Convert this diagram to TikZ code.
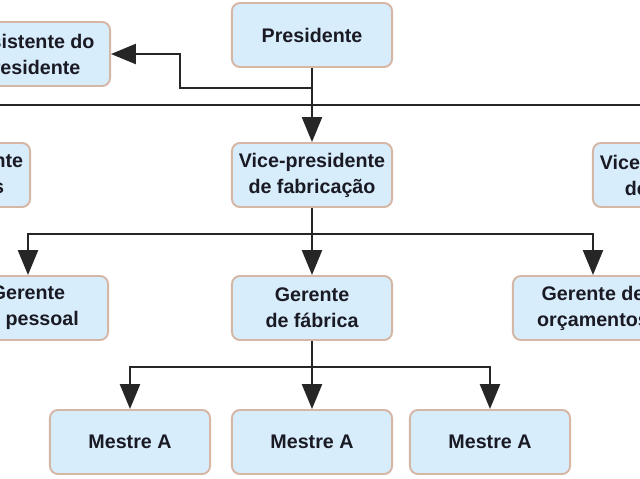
\documentclass[tikz,border=0pt]{standalone}
\usepackage{fontspec}
\setmainfont{Liberation Sans}
\usetikzlibrary{arrows.meta}
\definecolor{boxfill}{HTML}{D8EDFB}
\definecolor{boxline}{HTML}{D6B6A4}
\definecolor{txt}{HTML}{1A1A24}
\begin{document}
\begin{tikzpicture}[x=0.025cm, y=-0.025cm,
    cargo/.style={draw=boxline, line width=1.4pt, fill=boxfill, rounded corners=0.2cm,
      minimum width=4cm, minimum height=1.6cm, align=center, text=txt,
      font=\bfseries\fontsize{14pt}{18.5pt}\selectfont},
    seta/.style={-{Triangle[length=0.62cm, width=0.5cm]}},
    linha/.style={line width=1.4pt, black!85}]
  \useasboundingbox (0,0) rectangle (640,479);
  \clip (0,0) rectangle (640,479);
  \fill[white] (0,0) rectangle (640,479);

  \node[cargo] (pres) at (312,35) {Presidente};
  \node[cargo] (asst) at (30,54) {Assistente do\\Presidente};

  \node[cargo] (vpe) at (-50,175) {Vice-presidente\\de finanças};
  \node[cargo] (vpf) at (312,175) {Vice-presidente\\de fabricação};
  \node[cargo] (vpd) at (673,175) {Vice-presidente\\de vendas};

  \node[cargo] (gp) at (28,308) {Gerente\\de pessoal};
  \node[cargo] (gf) at (312,308) {Gerente\\de fábrica};
  \node[cargo] (go) at (593,308) {Gerente de\\orçamentos};

  \node[cargo] (m1) at (130,442) {Mestre A};
  \node[cargo] (m2) at (312,442) {Mestre A};
  \node[cargo] (m3) at (490,442) {Mestre A};

  \coordinate (dobra) at (180,88);
  \coordinate (eixoE) at (-20,105);
  \coordinate (eixoD) at (660,105);
  \coordinate (ger) at (312,234);
  \coordinate (mes) at (312,367);

  % presidente
  \draw[linha, seta] (pres.south) |- (dobra) |- (asst.east);
  \draw[linha] (eixoE) -- (eixoD);
  \draw[linha, seta] (pres) -- (vpf);

  % gerentes
  \draw[linha] (vpf) -- (ger);
  \draw[linha, seta] (ger) -| (gp.north);
  \draw[linha, seta] (ger) -- (gf);
  \draw[linha, seta] (ger) -| (go.north);

  % mestres
  \draw[linha] (gf) -- (mes);
  \draw[linha, seta] (mes) -| (m1.north);
  \draw[linha, seta] (mes) -- (m2);
  \draw[linha, seta] (mes) -| (m3.north);
\end{tikzpicture}
\end{document}
